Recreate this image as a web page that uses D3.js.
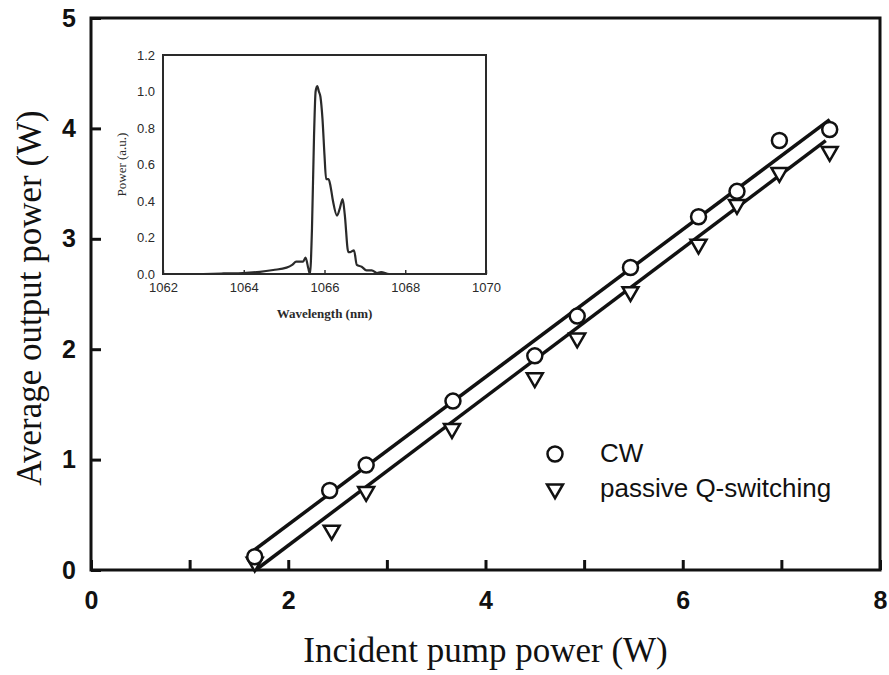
<!DOCTYPE html>
<html>
<head>
<meta charset="utf-8">
<script src="https://cdn.jsdelivr.net/npm/d3@7"></script>
<style>
  body { margin: 0; background: #fff; }
  svg { display: block; }
</style>
</head>
<body>
<svg id="chart" width="889" height="675"></svg>
<script>
// ---------- data ----------
const pumpCW = [1.66, 2.42, 2.79, 3.67, 4.50, 4.93, 5.47, 6.16, 6.55, 6.98, 7.49];
const powerCW = [0.12, 0.72, 0.95, 1.53, 1.94, 2.30, 2.74, 3.20, 3.43, 3.89, 3.99];
const pumpQS = [1.66, 2.44, 2.79, 3.66, 4.50, 4.93, 5.47, 6.16, 6.55, 6.98, 7.49];
const powerQS = [0.07, 0.36, 0.71, 1.28, 1.74, 2.10, 2.52, 2.95, 3.31, 3.60, 3.79];
const fitCWx = [1.61, 7.49];
const fitCWy = [0.15, 4.08];
const fitQSx = [1.67, 7.45];
const fitQSy = [0.00, 3.89];
const xTicks = [0, 1, 2, 3, 4, 5, 6, 7, 8];
const xTickLabels = ["0", "", "2", "", "4", "", "6", "", "8"];
const yTicks = [0, 1, 2, 3, 4, 5];
const legendLabels = ["CW", "passive Q-switching"];
const xTitle = "Incident pump power (W)";
const yTitle = "Average output power (W)";

// inset spectrum
const wavelength = [1063.0, 1063.5, 1063.98, 1064.4, 1064.73, 1065.06, 1065.2, 1065.3, 1065.47, 1065.53,
  1065.6, 1065.64, 1065.69, 1065.74, 1065.78, 1065.82, 1065.86, 1065.9, 1065.95, 1066.0,
  1066.04, 1066.1, 1066.15, 1066.21, 1066.31, 1066.38, 1066.45, 1066.5, 1066.59, 1066.64,
  1066.73, 1066.8, 1066.92, 1067.04, 1067.17, 1067.3, 1067.4, 1067.6, 1068.0, 1068.7];
const spectrum = [0.0, 0.003, 0.005, 0.012, 0.022, 0.035, 0.05, 0.068, 0.068, 0.09,
  0.03, 0.0, 0.25, 0.75, 1.0, 1.03, 1.0, 0.97, 0.85, 0.65,
  0.52, 0.52, 0.48, 0.40, 0.32, 0.36, 0.41, 0.33, 0.12, 0.12,
  0.13, 0.05, 0.04, 0.02, 0.02, 0.005, 0.01, 0.0, 0.0, 0.0];
const insetXTicks = [1062, 1064, 1066, 1068, 1070];
const insetYTicks = [0, 0.2, 0.4, 0.6, 0.8, 1.0, 1.2];
const insetXTitle = "Wavelength (nm)";
const insetYTitle = "Power (a.u.)";

// ---------- drawing ----------
const svg = d3.select("#chart");
const ink = "#111";

const x = d3.scaleLinear().domain([0, 8]).range([91, 880]);
const y = d3.scaleLinear().domain([0, 5]).range([570, 18]);

// axes (ticks inward)
const xAxis = d3.axisBottom(x).tickValues(xTicks)
  .tickFormat((d, i) => xTickLabels[i]).tickSize(-10).tickPadding(21);
const gx = svg.append("g").attr("transform", `translate(0,${y(0)})`).call(xAxis);
const yAxis = d3.axisLeft(y).tickValues(yTicks).tickFormat(d3.format("d")).tickSize(-10).tickPadding(15);
const gy = svg.append("g").attr("transform", `translate(${x(0)},0)`).call(yAxis);
[gx, gy].forEach(g => {
  g.select(".domain").remove();
  g.selectAll(".tick line").attr("stroke", ink).attr("stroke-width", 3);
  g.selectAll(".tick text").attr("fill", ink)
    .style("font-family", "'Liberation Sans', Arial, sans-serif")
    .style("font-weight", "bold").style("font-size", "25px");
});

// frame
svg.append("rect")
  .attr("x", x(0)).attr("y", y(5))
  .attr("width", x(8) - x(0)).attr("height", y(0) - y(5))
  .attr("fill", "none").attr("stroke", ink).attr("stroke-width", 3);

// axis titles
svg.append("text").text(xTitle)
  .attr("x", (x(0) + x(8)) / 2).attr("y", 662)
  .attr("text-anchor", "middle").attr("fill", ink)
  .style("font-family", "'Liberation Serif', 'Times New Roman', serif").style("font-size", "35px");
svg.append("text").text(yTitle)
  .attr("transform", `translate(41,298) rotate(-90)`)
  .attr("text-anchor", "middle").attr("fill", ink)
  .style("font-family", "'Liberation Serif', 'Times New Roman', serif").style("font-size", "35px");

// fit lines
const line = d3.line().x(d => x(d[0])).y(d => y(d[1]));
[[fitCWx, fitCWy], [fitQSx, fitQSy]].forEach(([fx, fy]) => {
  svg.append("path").datum(fx.map((v, i) => [v, fy[i]]))
    .attr("d", line).attr("fill", "none").attr("stroke", ink).attr("stroke-width", 3.5);
});

// markers
const tri = d3.symbol().type(d3.symbolTriangle).size(110);
svg.append("g").selectAll("path").data(pumpQS.map((v, i) => [v, powerQS[i]]))
  .join("path").attr("d", tri)
  .attr("transform", d => `translate(${x(d[0])},${y(d[1])}) rotate(180)`)
  .attr("fill", "#fff").attr("stroke", ink).attr("stroke-width", 2.5);
svg.append("g").selectAll("circle").data(pumpCW.map((v, i) => [v, powerCW[i]]))
  .join("circle").attr("cx", d => x(d[0])).attr("cy", d => y(d[1])).attr("r", 7.5)
  .attr("fill", "#fff").attr("stroke", ink).attr("stroke-width", 2.5);

// legend
const lg = svg.append("g");
lg.append("circle").attr("cx", 555).attr("cy", 454).attr("r", 7.5)
  .attr("fill", "#fff").attr("stroke", ink).attr("stroke-width", 2.5);
lg.append("path").attr("d", tri).attr("transform", "translate(555,489) rotate(180)")
  .attr("fill", "#fff").attr("stroke", ink).attr("stroke-width", 2.5);
legendLabels.forEach((t, i) => {
  lg.append("text").text(t).attr("x", 600).attr("y", 462 + i * 35).attr("fill", ink)
    .style("font-family", "'Liberation Sans', Arial, sans-serif").style("font-size", "26px");
});

// ---------- inset ----------
const ix = d3.scaleLinear().domain([1062, 1070]).range([163, 486]);
const iy = d3.scaleLinear().domain([0, 1.2]).range([274, 55]);
const insetInk = "#2a2a2a";

svg.append("rect").attr("x", ix(1062)).attr("y", iy(1.2))
  .attr("width", ix(1070) - ix(1062)).attr("height", iy(0) - iy(1.2))
  .attr("fill", "#fff").attr("stroke", insetInk).attr("stroke-width", 2);

const igx = svg.append("g").attr("transform", `translate(0,${iy(0)})`)
  .call(d3.axisBottom(ix).tickValues(insetXTicks).tickFormat(d3.format("d")).tickSize(-4).tickPadding(9));
const igy = svg.append("g").attr("transform", `translate(${ix(1062)},0)`)
  .call(d3.axisLeft(iy).tickValues(insetYTicks).tickFormat(d3.format(".1f")).tickSize(0).tickPadding(8));
[igx, igy].forEach(g => {
  g.select(".domain").remove();
  g.selectAll(".tick line").attr("stroke", insetInk).attr("stroke-width", 1.4);
  g.selectAll(".tick text").attr("fill", insetInk)
    .style("font-family", "'Liberation Sans', Arial, sans-serif").style("font-size", "13px");
});

svg.append("path").datum(wavelength.map((v, i) => [v, spectrum[i]]))
  .attr("d", d3.line().x(d => ix(d[0])).y(d => iy(d[1])).curve(d3.curveMonotoneX))
  .attr("fill", "none").attr("stroke", insetInk).attr("stroke-width", 2.2);

svg.append("text").text(insetXTitle)
  .attr("x", (ix(1062) + ix(1070)) / 2).attr("y", 318)
  .attr("text-anchor", "middle").attr("fill", insetInk)
  .style("font-family", "'Liberation Serif', 'Times New Roman', serif")
  .style("font-weight", "bold").style("font-size", "13px");
svg.append("text").text(insetYTitle)
  .attr("transform", `translate(126,${(iy(0) + iy(1.2)) / 2}) rotate(-90)`)
  .attr("text-anchor", "middle").attr("fill", insetInk)
  .style("font-family", "'Liberation Serif', 'Times New Roman', serif").style("font-size", "13px");
</script>
</body>
</html>
